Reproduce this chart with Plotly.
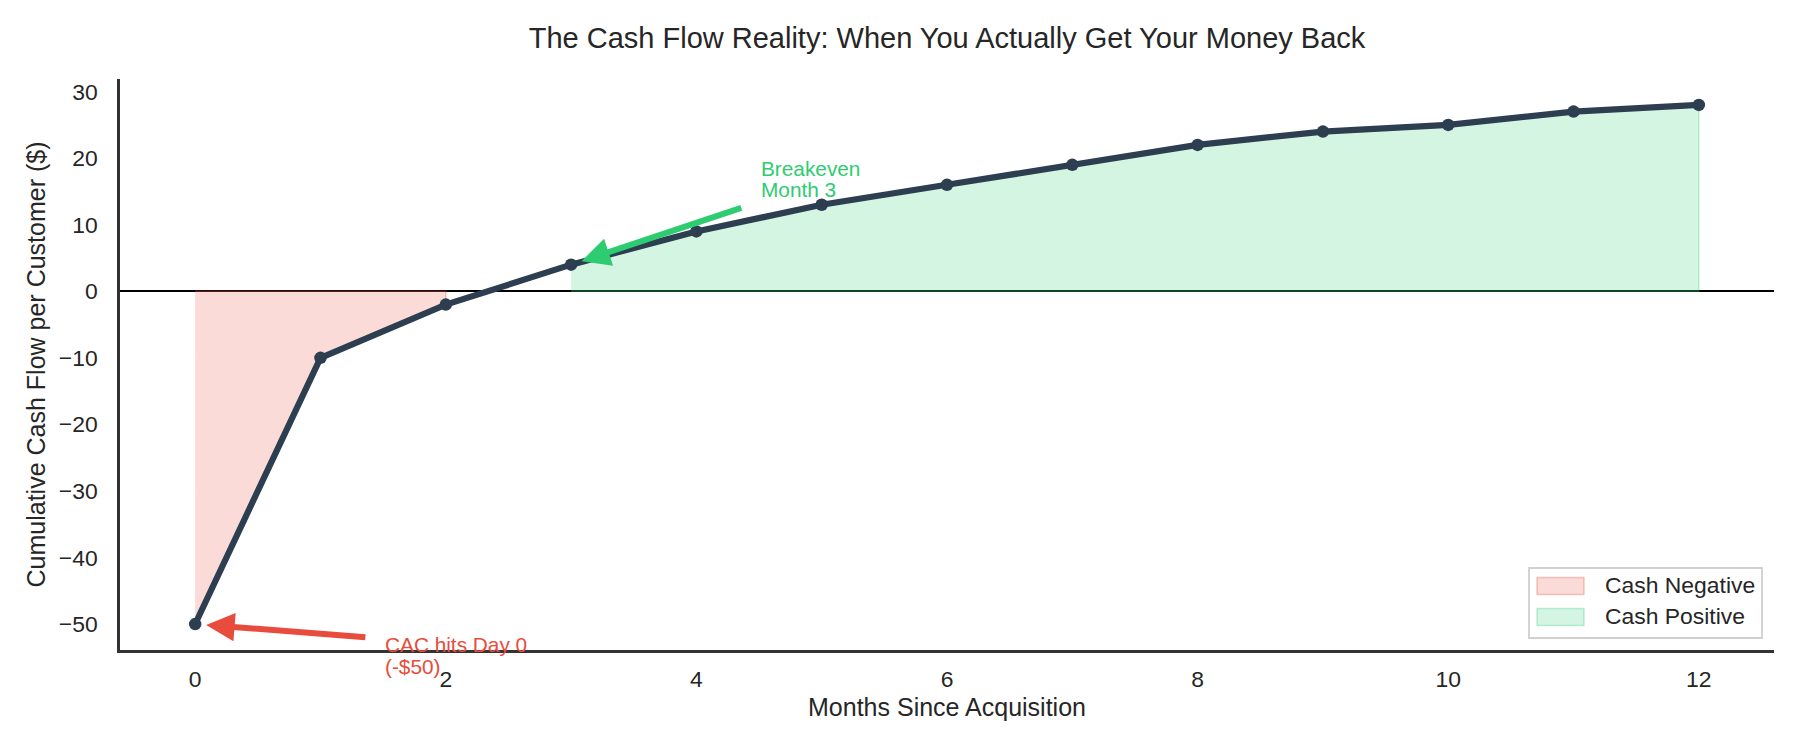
import numpy as np
import plotly.graph_objects as go

# données
months = [0, 1, 2, 3, 4, 5, 6, 7, 8, 9, 10, 11, 12]
cumulative_cash = [-50, -10, -2, 4, 9, 13, 16, 19, 22, 24, 25, 27, 28]
x_ticks = [0, 2, 4, 6, 8, 10, 12]
y_ticks = [-50, -40, -30, -20, -10, 0, 10, 20, 30]

breakeven_label = ["Breakeven", "Month 3"]
cac_label = ["CAC hits Day 0", "(-$50)"]
legend_labels = ["Cash Negative", "Cash Positive"]

LINE_COLOR = "#2c3e50"
RED = "#e74c3c"
GREEN = "#2ecc71"
RED_FILL = "rgba(231,76,60,0.2)"
GREEN_FILL = "rgba(46,204,113,0.2)"
RED_EDGE = "rgba(231,76,60,0.3)"
GREEN_EDGE = "rgba(46,204,113,0.3)"
TEXT_COLOR = "#262626"
FONT = "Liberation Sans, Arial, sans-serif"

m = np.array(months)
c = np.array(cumulative_cash)
neg = c < 0
pos = c > 0

x_pad = (m.max() - m.min()) * 0.05
y_pad = (c.max() - c.min()) * 0.05
y_lo, y_hi = c.min() - y_pad, c.max() + y_pad

fig = go.Figure()

# zone négative : polygone entre la courbe et 0
xn = list(m[neg]) + [m[neg][-1], m[neg][0]]
yn = list(c[neg]) + [0, 0]
fig.add_trace(go.Scatter(
    x=xn, y=yn, fill="toself", mode="lines",
    fillcolor=RED_FILL, line=dict(color=RED_EDGE, width=1.5),
    name="Cash Negative", hoverinfo="skip", showlegend=False,
))

# zone positive
xp = list(m[pos]) + [m[pos][-1], m[pos][0]]
yp = list(c[pos]) + [0, 0]
fig.add_trace(go.Scatter(
    x=xp, y=yp, fill="toself", mode="lines",
    fillcolor=GREEN_FILL, line=dict(color=GREEN_EDGE, width=1.5),
    name="Cash Positive", hoverinfo="skip", showlegend=False,
))

# courbe principale
fig.add_trace(go.Scatter(
    x=months, y=cumulative_cash, mode="lines+markers",
    line=dict(color=LINE_COLOR, width=6.2),
    marker=dict(color=LINE_COLOR, size=12.5),
    showlegend=False,
))

# flèches
fig.add_annotation(
    x=months[3], y=cumulative_cash[3], ax=4.37, ay=12.6,
    xref="x", yref="y", axref="x", ayref="y", text="",
    showarrow=True, arrowhead=2, arrowsize=0.95, arrowwidth=6,
    arrowcolor=GREEN, standoff=11,
)
fig.add_annotation(
    x=months[0], y=cumulative_cash[0], ax=1.37, ay=-52.0,
    xref="x", yref="y", axref="x", ayref="y", text="",
    showarrow=True, arrowhead=2, arrowsize=0.95, arrowwidth=6,
    arrowcolor=RED, standoff=11,
)

# textes des annotations (une ligne par annotation pour garder l'interligne serré)
for i, line in enumerate(reversed(breakeven_label)):
    fig.add_annotation(
        x=4.5, y=14, xref="x", yref="y", text=line, showarrow=False,
        xanchor="left", yanchor="middle", yshift=8.4 + 21.7 * i,
        font=dict(family=FONT, size=20.8, color=GREEN),
    )
# le texte rouge tombe sous l'axe : repère "paper" pour ne pas être masqué
cac_y = (-58 - y_lo) / (y_hi - y_lo)
for i, line in enumerate(reversed(cac_label)):
    fig.add_annotation(
        x=1.5, y=cac_y, xref="x", yref="paper", text=line, showarrow=False,
        xanchor="left", yanchor="middle", yshift=10.8 + 21.7 * i,
        font=dict(family=FONT, size=20.8, color=RED),
    )

# légende dessinée à la main (cadre + carrés + textes), ancrée en bas à droite
fig.add_shape(
    type="rect", xref="paper", yref="paper", xsizemode="pixel", ysizemode="pixel",
    xanchor=1, yanchor=0, x0=-245, x1=-12, y0=12, y1=82,
    fillcolor="rgba(255,255,255,0.8)", line=dict(color="#d0d0d0", width=1.8),
)
for label, fill, edge, yc in zip(legend_labels, [RED_FILL, GREEN_FILL],
                                 [RED_EDGE, GREEN_EDGE], [64, 33]):
    fig.add_shape(
        type="rect", xref="paper", yref="paper", xsizemode="pixel", ysizemode="pixel",
        xanchor=1, yanchor=0, x0=-237, x1=-190, y0=yc - 8.5, y1=yc + 8.5,
        fillcolor=fill, line=dict(color=edge, width=1.5),
    )
    fig.add_annotation(
        x=1, y=0, xref="paper", yref="paper", text=label, showarrow=False,
        xanchor="left", yanchor="middle", xshift=-171, yshift=yc + 1,
        font=dict(family=FONT, size=22.9, color=TEXT_COLOR),
    )

fig.update_layout(
    width=1792, height=742,
    margin=dict(l=112, r=26, t=71, b=100),
    paper_bgcolor="white", plot_bgcolor="white",
    font=dict(family=FONT, color=TEXT_COLOR),
    title=dict(
        text="The Cash Flow Reality: When You Actually Get Your Money Back",
        x=0.5, xref="paper", xanchor="center",
        y=1 - 30 / 742, yref="container", yanchor="middle",
        font=dict(size=29, color=TEXT_COLOR),
    ),
    xaxis=dict(
        range=[m.min() - x_pad, m.max() + x_pad],
        tickvals=x_ticks, showgrid=False, zeroline=False,
        showline=True, linecolor="#333333", linewidth=2.5,
        ticks="", ticklabelstandoff=7,
        tickfont=dict(size=22.9, color=TEXT_COLOR),
        title=dict(text="Months Since Acquisition", font=dict(size=25), standoff=8),
    ),
    yaxis=dict(
        range=[y_lo, y_hi],
        tickvals=y_ticks, showgrid=False,
        zeroline=True, zerolinecolor="black", zerolinewidth=2,
        showline=True, linecolor="#333333", linewidth=2.5,
        ticks="", ticklabelstandoff=15,
        tickfont=dict(size=22.9, color=TEXT_COLOR),
        title=dict(text="Cumulative Cash Flow per Customer ($)", font=dict(size=25), standoff=7),
    ),
    showlegend=False,
)

fig.write_html("out.html")
